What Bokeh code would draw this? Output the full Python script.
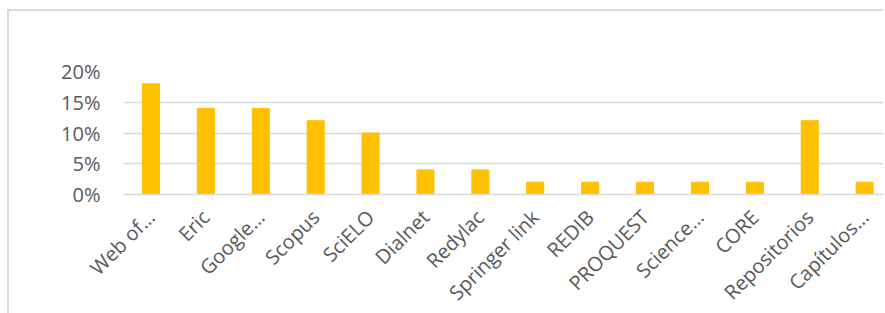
import math
from bokeh.plotting import figure
from bokeh.models import Range1d, FixedTicker, NumeralTickFormatter
from bokeh.embed import file_html
from bokeh.resources import INLINE

categories = ["Web of…", "Eric", "Google…", "Scopus", "SciELO", "Dialnet", "Redylac",
              "Springer link", "REDIB", "PROQUEST", "Science…", "CORE", "Repositorios", "Capítulos…"]
values = [0.18, 0.14, 0.14, 0.12, 0.10, 0.04, 0.04, 0.02, 0.02, 0.02, 0.02, 0.02, 0.12, 0.02]
y_ticks = [0, 0.05, 0.10, 0.15, 0.20]

xs = list(range(len(categories)))

p = figure(width=876, height=307, output_backend="svg", toolbar_location=None,
           x_range=Range1d(-0.5, 13.38), y_range=Range1d(0, 0.20),
           min_border_left=114, min_border_top=60, min_border_bottom=124, min_border_right=0)
p.styles = {"border-top": "2px solid #d9d9d9", "border-left": "2px solid #d9d9d9",
            "margin-left": "7px", "margin-top": "9px"}

p.vbar(x=xs, top=values, width=0.31, color="#FFC000")

p.outline_line_color = None
p.xgrid.grid_line_color = None
p.ygrid.grid_line_color = "#d9d9d9"
p.ygrid.grid_line_width = 1.5
p.ygrid.ticker = FixedTicker(ticks=y_ticks)

font = "Open Sans"
p.yaxis.ticker = FixedTicker(ticks=y_ticks)
p.yaxis.formatter = NumeralTickFormatter(format="0%")
p.yaxis.axis_line_color = None
p.yaxis.major_tick_line_color = None
p.yaxis.minor_tick_line_color = None
p.yaxis.major_tick_out = 0
p.yaxis.major_label_standoff = 23
p.yaxis.major_label_text_font = font
p.yaxis.major_label_text_font_size = "20px"
p.yaxis.major_label_text_color = "#595959"

p.xaxis.ticker = FixedTicker(ticks=xs)
p.xaxis.major_label_overrides = {i: c for i, c in enumerate(categories)}
p.xaxis.major_label_orientation = math.pi / 4
p.xaxis.axis_line_color = "#d9d9d9"
p.xaxis.axis_line_width = 1.5
p.xaxis.major_tick_line_color = None
p.xaxis.minor_tick_line_color = None
p.xaxis.major_tick_out = 0
p.xaxis.major_label_standoff = 19
p.xaxis.major_label_text_font = font
p.xaxis.major_label_text_font_size = "20px"
p.xaxis.major_label_text_color = "#595959"

open("out.html", "w").write(file_html(p, INLINE))
